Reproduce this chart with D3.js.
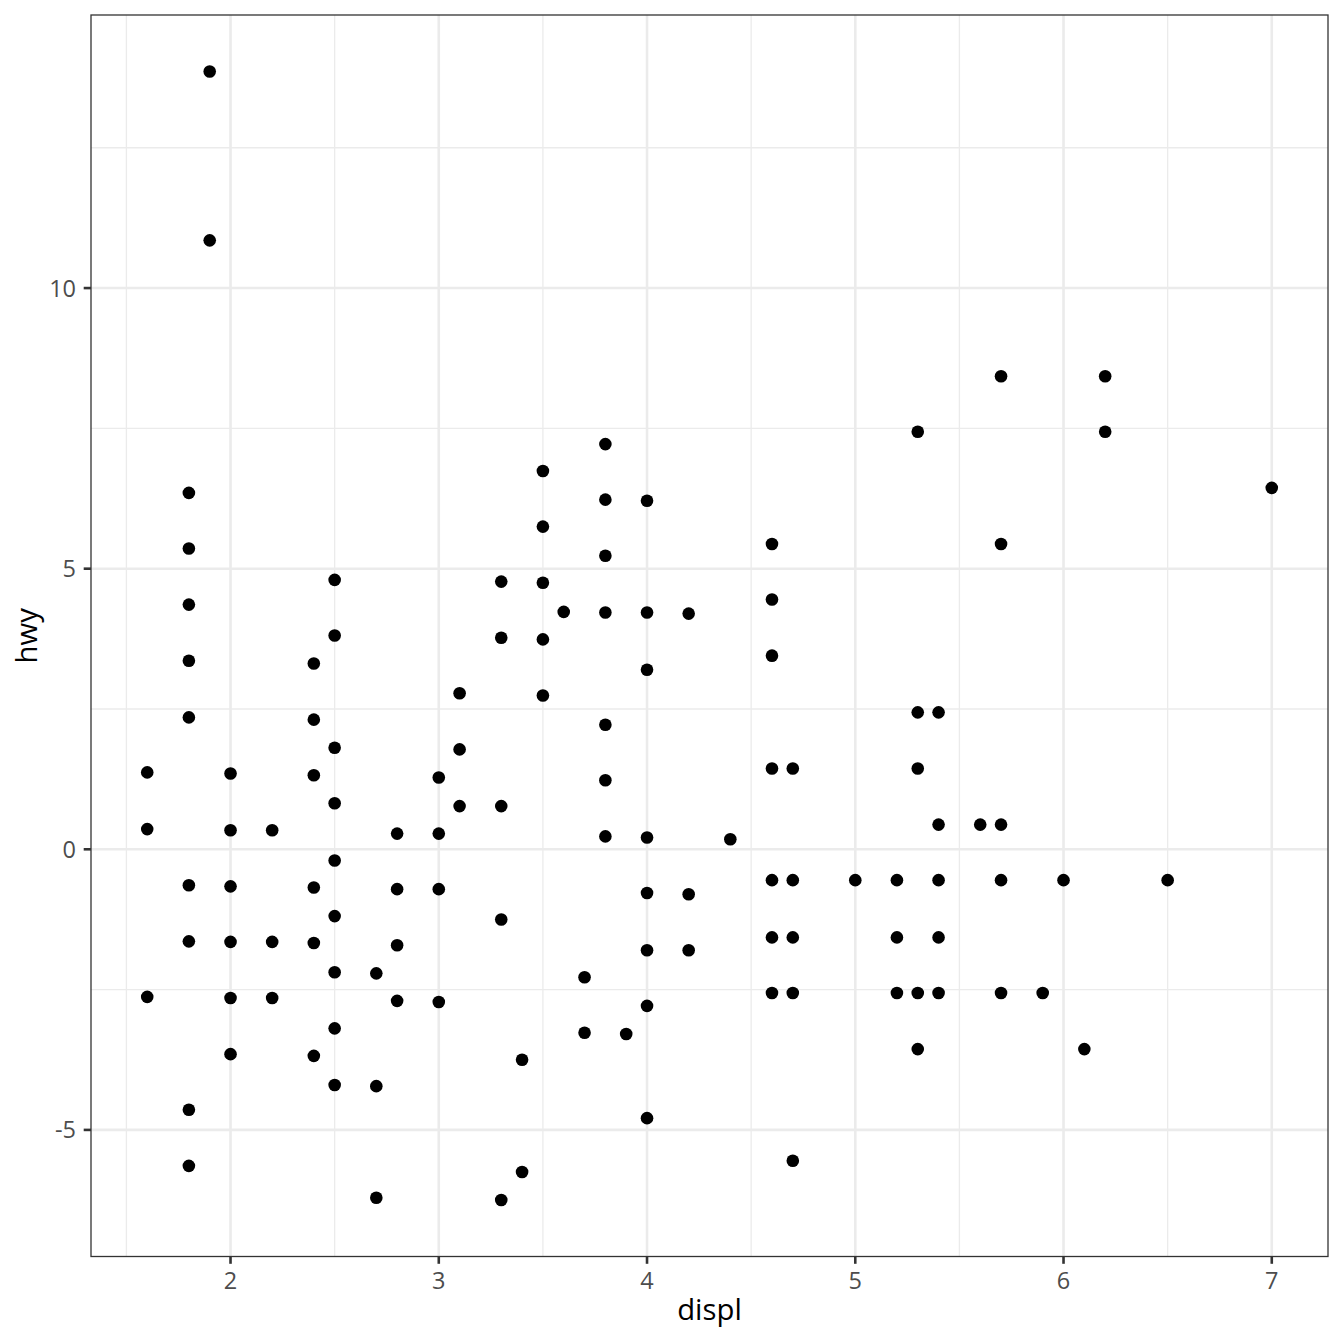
<!DOCTYPE html>
<html>
<head>
<meta charset="utf-8">
<script src="https://cdn.jsdelivr.net/npm/d3@7/dist/d3.min.js"></script>
<style>
html,body{margin:0;padding:0;background:#fff;}
svg{display:block;}
</style>
</head>
<body>
<svg id="chart" width="1344" height="1344"></svg>
<script>
// Data (x = displ, y = hwy residual)
const displ = [
  1.9, 1.9,
  1.6, 1.6, 1.6,
  1.8, 1.8, 1.8, 1.8, 1.8, 1.8, 1.8, 1.8, 1.8,
  2.0, 2.0, 2.0, 2.0, 2.0, 2.0,
  2.2, 2.2, 2.2,
  2.4, 2.4, 2.4, 2.4, 2.4, 2.4,
  2.5, 2.5, 2.5, 2.5, 2.5, 2.5, 2.5, 2.5, 2.5,
  2.7, 2.7, 2.7,
  2.8, 2.8, 2.8, 2.8,
  3.0, 3.0, 3.0, 3.0,
  3.1, 3.1, 3.1,
  3.3, 3.3, 3.3, 3.3, 3.3,
  3.4, 3.4,
  3.5, 3.5, 3.5, 3.5, 3.5,
  3.6,
  3.7, 3.7,
  3.8, 3.8, 3.8, 3.8, 3.8, 3.8, 3.8,
  3.9,
  4.0, 4.0, 4.0, 4.0, 4.0, 4.0, 4.0, 4.0,
  4.2, 4.2, 4.2,
  4.4,
  4.6, 4.6, 4.6, 4.6, 4.6, 4.6, 4.6,
  4.7, 4.7, 4.7, 4.7, 4.7,
  5.0,
  5.2, 5.2, 5.2,
  5.3, 5.3, 5.3, 5.3, 5.3,
  5.4, 5.4, 5.4, 5.4, 5.4,
  5.6,
  5.7, 5.7, 5.7, 5.7, 5.7,
  5.9,
  6.0,
  6.1,
  6.2, 6.2,
  6.5,
  7.0
];
const hwy = [
  13.86, 10.85,
  1.37, 0.36, -2.63,
  6.35, 5.36, 4.36, 3.36, 2.35, -0.64, -1.64, -4.64, -5.64,
  1.35, 0.34, -0.66, -1.65, -2.65, -3.65,
  0.34, -1.65, -2.65,
  3.31, 2.31, 1.32, -0.68, -1.67, -3.68,
  4.80, 3.81, 1.81, 0.82, -0.20, -1.19, -2.19, -3.19, -4.20,
  -2.21, -4.22, -6.21,
  0.28, -0.71, -1.71, -2.70,
  1.28, 0.28, -0.71, -2.72,
  2.78, 1.78, 0.77,
  4.77, 3.77, 0.77, -1.25, -6.25,
  -3.75, -5.75,
  6.74, 5.75, 4.75, 3.74, 2.74,
  4.23,
  -2.28, -3.27,
  7.22, 6.23, 5.23, 4.22, 2.22, 1.23, 0.23,
  -3.29,
  6.21, 4.22, 3.20, 0.21, -0.78, -1.80, -2.79, -4.79,
  4.20, -0.80, -1.80,
  0.18,
  5.44, 4.45, 3.45, 1.44, -0.55, -1.57, -2.56,
  1.44, -0.55, -1.57, -2.56, -5.55,
  -0.55,
  -0.55, -1.57, -2.56,
  7.44, 2.44, 1.44, -2.56, -3.56,
  2.44, 0.44, -0.55, -1.57, -2.56,
  0.44,
  8.43, 5.44, 0.44, -0.55, -2.56,
  -2.56,
  -0.55,
  -3.56,
  8.43, 7.44,
  -0.55,
  6.44
];
const xTicks = [2, 3, 4, 5, 6, 7];
const yTicks = [-5, 0, 5, 10];
const xMinor = [1.5, 2.5, 3.5, 4.5, 5.5, 6.5];
const yMinor = [-2.5, 2.5, 7.5, 12.5];
const xTitle = "displ";
const yTitle = "hwy";

const points = displ.map((d, i) => ({x: d, y: hwy[i]}));

const svg = d3.select("#chart");
const W = 1344, H = 1344;
const panel = {left: 91, right: 1328, top: 15, bottom: 1256.5};

function expand(ext, f) {
  const span = ext[1] - ext[0];
  return [ext[0] - span * f, ext[1] + span * f];
}
const x = d3.scaleLinear().domain(expand(d3.extent(displ), 0.05)).range([panel.left, panel.right]);
const y = d3.scaleLinear().domain(expand(d3.extent(hwy), 0.05)).range([panel.bottom, panel.top]);

svg.append("rect").attr("width", W).attr("height", H).attr("fill", "#fff");

const g = svg.append("g");
// minor grid
g.selectAll(".xminor").data(xMinor).enter().append("line")
  .attr("x1", d => x(d)).attr("x2", d => x(d))
  .attr("y1", panel.top).attr("y2", panel.bottom)
  .attr("stroke", "#EBEBEB").attr("stroke-width", 1.3);
g.selectAll(".yminor").data(yMinor.filter(v => y(v) > panel.top && y(v) < panel.bottom)).enter().append("line")
  .attr("y1", d => y(d)).attr("y2", d => y(d))
  .attr("x1", panel.left).attr("x2", panel.right)
  .attr("stroke", "#EBEBEB").attr("stroke-width", 1.3);
// major grid
g.selectAll(".xmajor").data(xTicks).enter().append("line")
  .attr("x1", d => x(d)).attr("x2", d => x(d))
  .attr("y1", panel.top).attr("y2", panel.bottom)
  .attr("stroke", "#EBEBEB").attr("stroke-width", 2.6);
g.selectAll(".ymajor").data(yTicks).enter().append("line")
  .attr("y1", d => y(d)).attr("y2", d => y(d))
  .attr("x1", panel.left).attr("x2", panel.right)
  .attr("stroke", "#EBEBEB").attr("stroke-width", 2.6);

// points
g.selectAll(".pt").data(points).enter().append("circle")
  .attr("cx", d => x(d.x)).attr("cy", d => y(d.y))
  .attr("r", 6.3).attr("fill", "#000");

// panel border
svg.append("rect")
  .attr("x", panel.left).attr("y", panel.top)
  .attr("width", panel.right - panel.left).attr("height", panel.bottom - panel.top)
  .attr("fill", "none").attr("stroke", "#333333").attr("stroke-width", 1.3);

// ticks
const tickLen = 7.3;
svg.selectAll(".xt").data(xTicks).enter().append("line")
  .attr("x1", d => x(d)).attr("x2", d => x(d))
  .attr("y1", panel.bottom).attr("y2", panel.bottom + tickLen)
  .attr("stroke", "#333333").attr("stroke-width", 2.6);
svg.selectAll(".yt").data(yTicks).enter().append("line")
  .attr("y1", d => y(d)).attr("y2", d => y(d))
  .attr("x1", panel.left - tickLen).attr("x2", panel.left)
  .attr("stroke", "#333333").attr("stroke-width", 2.6);

const font = "'Open Sans', 'Noto Sans', sans-serif";
svg.selectAll(".xl").data(xTicks).enter().append("text")
  .attr("x", d => x(d)).attr("y", 1288.5)
  .attr("text-anchor", "middle")
  .attr("font-family", font).attr("font-size", 23.5).attr("fill", "#4D4D4D")
  .text(d => d);
svg.selectAll(".yl").data(yTicks).enter().append("text")
  .attr("x", 76).attr("y", d => y(d)).attr("dy", "0.36em")
  .attr("text-anchor", "end")
  .attr("font-family", font).attr("font-size", 23.5).attr("fill", "#4D4D4D")
  .text(d => d);

svg.append("text")
  .attr("x", (panel.left + panel.right) / 2).attr("y", 1320)
  .attr("text-anchor", "middle")
  .attr("font-family", font).attr("font-size", 29.3).attr("fill", "#000")
  .text(xTitle);
svg.append("text")
  .attr("transform", `translate(37,${(panel.top + panel.bottom) / 2}) rotate(-90)`)
  .attr("text-anchor", "middle")
  .attr("font-family", font).attr("font-size", 29.3).attr("fill", "#000")
  .text(yTitle);
</script>
</body>
</html>
